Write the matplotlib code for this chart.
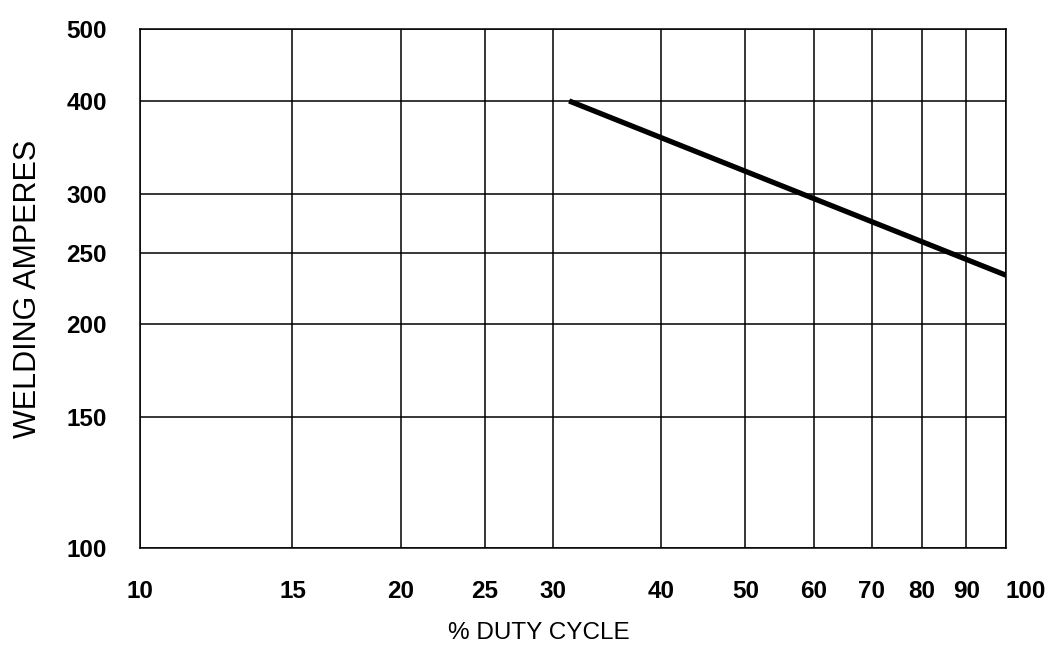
import matplotlib
matplotlib.use("Agg")
import matplotlib.pyplot as plt
from matplotlib.ticker import FixedLocator, NullLocator, NullFormatter
import matplotlib.transforms as mtransforms

# data
duty_cycle = [31.3, 100]
amperes = [400, 233]
x_ticks = [10, 15, 20, 25, 30, 40, 50, 60, 70, 80, 90, 100]
y_ticks = [100, 150, 200, 250, 300, 400, 500]
x_label = "% DUTY CYCLE"
y_label = "WELDING AMPERES"

fig = plt.figure(figsize=(10.51, 6.49), dpi=100)
ax = fig.add_axes([140/1051, 1-548/649, (1006-140)/1051, (548-29)/649])
ax.set_xscale("log")
ax.set_yscale("log")
ax.set_xlim(10, 100)
ax.set_ylim(100, 500)

ax.xaxis.set_major_locator(FixedLocator(x_ticks))
ax.yaxis.set_major_locator(FixedLocator(y_ticks))
ax.xaxis.set_minor_locator(NullLocator())
ax.yaxis.set_minor_locator(NullLocator())
ax.xaxis.set_minor_formatter(NullFormatter())
ax.yaxis.set_minor_formatter(NullFormatter())
ax.set_xticklabels([str(v) for v in x_ticks], fontfamily="Liberation Sans",
                   fontsize=17.5, fontweight="bold")
ax.set_yticklabels([str(v) for v in y_ticks], fontfamily="Liberation Sans",
                   fontsize=17.5, fontweight="bold")
ax.tick_params(axis="both", length=0, colors="black")
ax.tick_params(axis="x", pad=23)
ax.tick_params(axis="y", pad=24)

# shift last x label like original
lbl = ax.get_xticklabels()[-1]
lbl.set_transform(lbl.get_transform() + mtransforms.ScaledTranslation(20/100, 0, fig.dpi_scale_trans))

ax.grid(True, which="major", color="black", linewidth=1.1)
for s in ax.spines.values():
    s.set_linewidth(1.1)
    s.set_color("black")

ax.plot(duty_cycle, amperes, color="black", linewidth=3.8, solid_capstyle="butt", zorder=3)

ax.set_xlabel(x_label, fontfamily="Liberation Sans", fontsize=17.5)
ax.set_ylabel(y_label, fontfamily="Liberation Sans", fontsize=22)
ax.xaxis.set_label_coords((539-140)/866, (548-633)/519)
ax.xaxis.label.set_va("center")
ax.yaxis.set_label_coords((28-140)/866, 0.5)
ax.yaxis.label.set_va("center")

fig.savefig("out.png", dpi=100)
